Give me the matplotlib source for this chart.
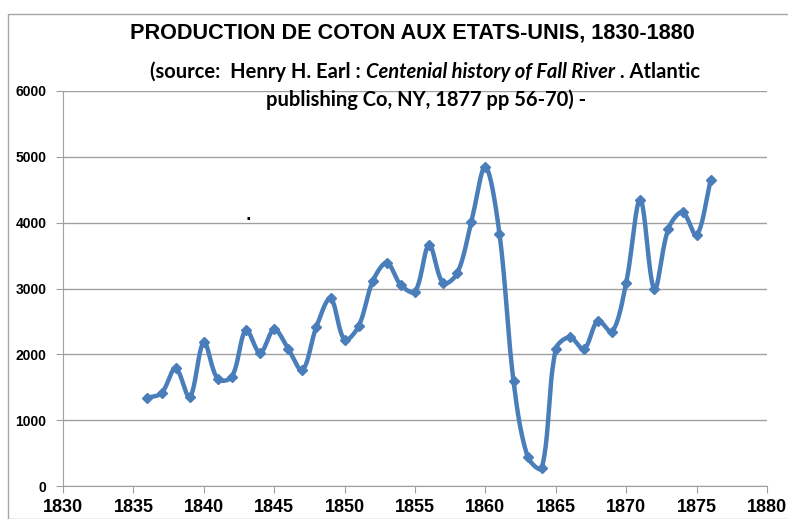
import numpy as np
import matplotlib
matplotlib.use("Agg")
import matplotlib.pyplot as plt
from matplotlib.patches import Rectangle

years = [1836, 1837, 1838, 1839, 1840, 1841, 1842, 1843, 1844, 1845, 1846,
         1847, 1848, 1849, 1850, 1851, 1852, 1853, 1854, 1855, 1856, 1857,
         1858, 1859, 1860, 1861, 1862, 1863, 1864, 1865, 1866, 1867, 1868,
         1869, 1870, 1871, 1872, 1873, 1874, 1875, 1876]
production = [1340, 1410, 1790, 1350, 2180, 1620, 1660, 2370, 2020, 2380, 2080,
              1760, 2420, 2850, 2220, 2430, 3110, 3390, 3050, 2950, 3660, 3080,
              3230, 4010, 4850, 3830, 1590, 445, 270, 2080, 2260, 2080, 2510,
              2340, 3090, 4350, 2990, 3910, 4160, 3810, 4650]

xticks = list(range(1830, 1881, 5))
yticks = list(range(0, 6001, 1000))
title = "PRODUCTION DE COTON AUX ETATS-UNIS, 1830-1880"

blue = "#4A7EBB"


def smooth_display(ax, x, y, n=24):
    """Excel-like smoothing computed in display space."""
    P = ax.transData.transform(np.column_stack([x, y]))
    m = len(P)
    xs = []
    t = np.linspace(0, 1, n)
    for i in range(m - 1):
        p0 = P[i]; p3 = P[i + 1]
        prev = P[i - 1] if i > 0 else P[i]
        nxt = P[i + 2] if i + 2 < m else P[i + 1]
        d01 = np.linalg.norm(p3 - p0)
        dprev = np.linalg.norm(p0 - prev)
        dnext = np.linalg.norm(nxt - p3)
        T0 = p3 - prev
        T1 = nxt - p0
        w0 = d01 / (d01 + dprev) if (d01 + dprev) > 0 else 0.5
        w1 = d01 / (d01 + dnext) if (d01 + dnext) > 0 else 0.5
        c1 = p0 + T0 * w0 / 3
        c2 = p3 - T1 * w1 / 3
        b = (((1 - t) ** 3)[:, None] * p0 + (3 * (1 - t) ** 2 * t)[:, None] * c1
             + (3 * (1 - t) * t ** 2)[:, None] * c2 + (t ** 3)[:, None] * p3)
        xs.append(b)
    B = np.vstack(xs)
    D = ax.transData.inverted().transform(B)
    return D[:, 0], D[:, 1]


fig = plt.figure(figsize=(7.88, 5.19), dpi=100)
fig.patches.append(Rectangle((8/788, 0), 1, 1 - 14/519, transform=fig.transFigure,
                             fill=False, edgecolor="#A6A6A6", linewidth=1))
ax = fig.add_axes([63/788, 1 - 486/519, (767-63)/788, (486-91)/519])
ax.set_xlim(1830, 1880)
ax.set_ylim(0, 6000)

sx, sy = smooth_display(ax, years, production)
ax.plot(sx, sy, color=blue, lw=3.2, solid_capstyle="round", zorder=3)
ax.plot(years, production, linestyle="none", marker="D", markersize=5,
        color=blue, zorder=4)

ax.set_xticks(xticks)
ax.set_yticks(yticks)
ax.set_xticklabels([str(v) for v in xticks], fontsize=13, fontweight="bold",
                   family="Liberation Sans")
ax.set_yticklabels([str(v) for v in yticks], fontsize=10, fontweight="bold",
                   family="Liberation Sans")
ax.yaxis.grid(True, color="#A0A0A0", lw=1)
ax.set_axisbelow(True)
for s in ["top", "right"]:
    ax.spines[s].set_visible(False)
for s in ["left", "bottom"]:
    ax.spines[s].set_color("#A0A0A0")
ax.tick_params(axis="x", direction="out", length=5, color="#A0A0A0", pad=4)
ax.tick_params(axis="y", direction="out", length=5, color="#A0A0A0", pad=7)

fig.canvas.draw()
r = fig.canvas.get_renderer()

# title fitted to reference width
tt = fig.text(412/788, 1 - 33/519, title, ha="center", va="center", fontsize=14,
              fontweight="bold", family="Liberation Sans")
w = tt.get_window_extent(r).width
tt.set_fontsize(14 * 567 / w)

# subtitle with mixed italic, placed piecewise
parts = [("(source:  Henry H. Earl : ", "normal"),
         ("Centenial history of Fall River", "italic"),
         (" . Atlantic", "normal")]
fam = "Lato"
fs = 14
texts = []
for s, st in parts:
    t = fig.text(0, 1 - 72/519, s, ha="left", va="center", fontsize=fs,
                 fontweight="bold", style=st, family=fam)
    texts.append(t)
total = sum(t.get_window_extent(r).width for t in texts)
fs = fs * 554 / total
for t in texts:
    t.set_fontsize(fs)
widths = [t.get_window_extent(r).width for t in texts]
x0 = 425 - sum(widths) / 2
for t, wd in zip(texts, widths):
    t.set_x(x0 / 788)
    x0 += wd
fig.text(426/788, 1 - 100/519, "publishing Co, NY, 1877 pp 56-70) -", ha="center",
         va="center", fontsize=fs, fontweight="bold", family=fam)
fig.text(248/788, 1 - 216/519, ".", ha="center", va="center", fontsize=11,
         fontweight="bold")

fig.savefig("out.png", dpi=100)
